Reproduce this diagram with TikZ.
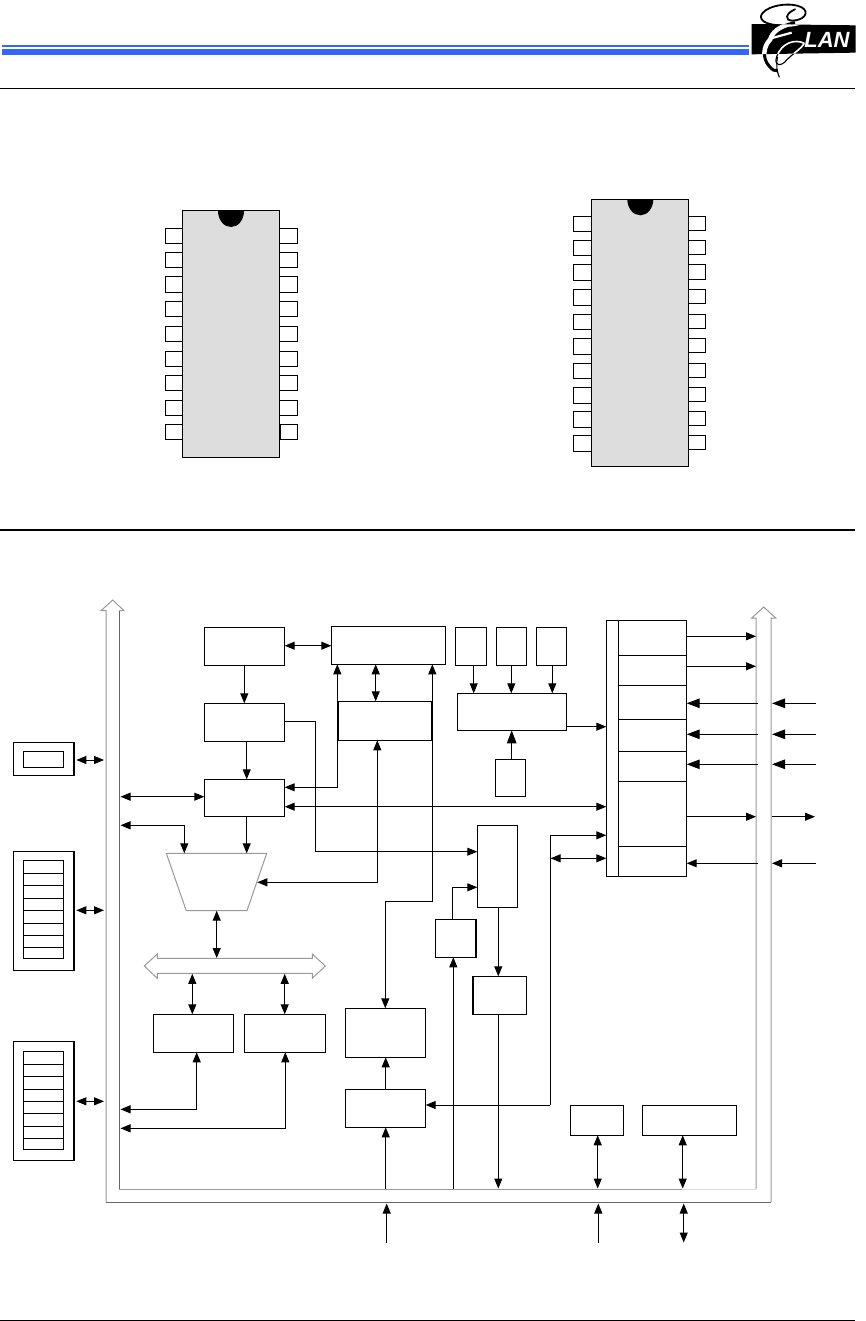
\documentclass[tikz,border=0pt]{standalone}
\usepackage{fontspec}
\setmainfont{Liberation Sans}
\usetikzlibrary{arrows.meta}
\definecolor{hdrblue}{HTML}{3366FF}
\definecolor{chipgray}{HTML}{DDDDDD}
\definecolor{busgray}{HTML}{999999}
\definecolor{busdark}{HTML}{666666}
\definecolor{buspale}{HTML}{DDDDDD}
\newcommand{\bx}[6][]{\node[boxn,#1,minimum width={#4-#2},minimum height={#5-#3}] (#6) at ({(#2+#4)/2},{(#3+#5)/2}) {};}
\tikzset{
  boxn/.style={draw=black,fill=white,line width=1pt,inner sep=0pt,outer sep=0pt,rectangle},
  chipbody/.style={fill=chipgray},
  arr/.style={-{Triangle[length=10pt,width=8pt]}},
  dbl/.style={{Triangle[length=10pt,width=8pt]}-{Triangle[length=10pt,width=8pt]}},
  bigarr/.style={-{Triangle[length=13pt,width=9.5pt]}},
  wire/.style={line width=1pt,draw=black,line join=miter},
  bus/.style={line width=1pt,draw=busgray,line join=miter},
  busd/.style={line width=1pt,draw=busdark,line join=miter},
  thickedge/.style={line width=2pt,draw=black},
}
\begin{document}
\begin{tikzpicture}[x=1pt,y=-1pt]
\useasboundingbox (0,0) rectangle (865,1321);
\fill[white] (0,0) rectangle (865,1321);
% header
\fill[hdrblue] (2,45) rectangle (749,47);
\fill[hdrblue] (2,49) rectangle (749,55);
\draw[line width=1pt] (0,88.3) -- (855,88.3);
\draw[line width=1.5pt] (0,530) -- (855,530);
\draw[line width=1pt] (0,1320.3) -- (855,1320.3);
% logo
\begin{scope}[shift={(745,0)},x=0.3333pt,y=-0.3333pt]
  \fill[black] (20,72) -- (332,76) -- (332,158) -- (20,163) -- cycle;
  \def\loopa{(112,76) .. controls (60,76) and (38,58) .. (52,40) .. controls (72,14) and (140,6) .. (170,22) .. controls (197,38) and (175,62) .. (140,62) .. controls (122,62) and (118,42) .. (150,28)}
  \def\eback{(150,68) .. controls (100,78) and (80,100) .. (76,118) .. controls (54,140) and (52,175) .. (72,198) .. controls (82,210) and (90,214) .. (96,212)}
  \def\loopb{(178,130) .. controls (150,116) and (110,128) .. (95,170) .. controls (85,200) and (110,200) .. (125,180) .. controls (150,155) and (165,150) .. (178,130)}
  \draw[line width=1.8pt,black,line cap=round] \loopa;
  \draw[line width=3pt,black] \eback;
  \draw[line width=1.1pt,black] \loopb;
  \draw[line width=1.1pt,black] (98,170) .. controls (92,195) and (96,215) .. (103,232);
  \begin{scope}
    \clip (20,72) -- (332,76) -- (332,158) -- (20,163) -- cycle;
    \draw[line width=4.5pt,white] \eback;
    \draw[line width=2.2pt,white] (82,114) -- (140,98);
    \draw[line width=1.6pt,white] \loopb;
    \draw[line width=1.6pt,white] (112,76) .. controls (130,79) and (145,78) .. (165,72);
  \end{scope}
  \node[inner sep=0pt,text=white] (lan) at (246,120) {\fontsize{22}{22}\selectfont\bfseries\itshape LAN};
\end{scope}
% left chip
\bx[chipbody]{182.3}{211}{279.3}{457}{chipL}
\foreach \n/\y in {1/228.3,2/252.3,3/277,4/301.3,5/326,6/351,7/375,8/400,9/424.3}{
  \bx{165.3}{\y}{182.3}{\y+15.5}{pinLL\n}
}
\foreach \n/\y in {1/228.3,2/252.3,3/277,4/301.3,5/326,6/351,7/375,8/400}{
  \bx{279.3}{\y}{297.3}{\y+15.5}{pinLR\n}
}
\bx{280.5}{424.3}{297.3}{439.8}{pinLR9}
\fill[black] (218,211) arc[start angle=180,end angle=360,x radius=13,y radius=-16] -- cycle;
% right chip
\bx[chipbody]{591.3}{199.3}{688.3}{466}{chipR}
\foreach \n/\y in {1/216.3,2/240.5,3/265,4/289.5,5/314,6/338.5,7/363,8/387.5,9/411.5,10/435.5}{
  \bx{573.3}{\y}{591.3}{\y+15.5}{pinRL\n}
  \bx{688.3}{\y-0.7}{705.3}{\y+15}{pinRR\n}
}
\fill[black] (627.3,199.3) arc[start angle=180,end angle=360,x radius=13,y radius=-16] -- cycle;
% bus
\draw[bus] (106,1202) -- (106,610.7) -- (101,610.7) -- (112.7,600) -- (124,610.7) -- (119.3,610.7);
\draw[busd] (119.3,610.7) -- (119.3,1189);
\draw[bus] (119.3,1189) -- (682,1189);
\draw[line width=1pt,draw=buspale] (682,1189) -- (756,1189);
\draw[bus] (756,1189) -- (756,618) -- (751.7,618) -- (763.7,607) -- (775.7,618) -- (771,618) -- (771,1202);
\draw[busd] (771,1202) -- (106,1202);
\coordinate (lbus) at (120.5,0);
\coordinate (lbusout) at (104,0);
\coordinate (rbusin) at (756,0);
\coordinate (rbusin2) at (757.5,0);
\coordinate (rbusout) at (772,0);
\coordinate (extR) at (816,0);
\coordinate (inbot) at (0,1188.5);
\coordinate (outbot) at (0,1203.5);
\coordinate (extB) at (0,1242.5);
% blocks
\bx{204.3}{627.3}{284.7}{665.3}{A}
\bx{204.3}{703.3}{284.7}{741.3}{B}
\bx{204.3}{779.3}{284.7}{816.3}{C}
\bx{331.3}{626.3}{445.7}{664.3}{D}
\bx{338.3}{701.3}{431.7}{740.3}{E}
\bx{455.3}{627.3}{486.3}{665.3}{Ha}
\bx{496.3}{627.3}{526.3}{665.3}{Hb}
\bx{536.3}{627.3}{566.7}{665.3}{Hc}
\bx{457.3}{693.3}{566.7}{730.3}{I}
\bx{495.3}{759.3}{525.3}{796.3}{J}
\bx{477.3}{825.3}{517.7}{907.7}{F}
\bx{435.3}{919.3}{476.2}{957.3}{K}
\bx{472.8}{976.3}{526.7}{1014.3}{L}
\bx{153.3}{1014.3}{233.3}{1052.3}{N}
\bx{244.3}{1014.3}{325.3}{1052.3}{O}
\bx{345.3}{1008.3}{425.7}{1057.3}{G}
\bx{345.3}{1089.3}{425.7}{1127.3}{M}
\bx{570.3}{1105.3}{623.3}{1135.3}{P}
\bx{642.3}{1105.3}{736.3}{1135.3}{Q}
\draw[thickedge] (E.north east) -- (E.south east);
\draw[thickedge] (K.north east) -- (K.south east);
\draw[thickedge] (L.north west) -- (L.south west);
% register files
\bx{13.3}{742.3}{74}{775.3}{Ra}
\bx{23.3}{751.3}{63.3}{767.3}{Rai}
\bx{13.3}{851.3}{74}{970.3}{Rb}
\bx{23.3}{860.3}{63.3}{958.3}{Rbi}
\bx{13.3}{1041}{74}{1160.3}{Rc}
\bx{23.3}{1051.3}{63.3}{1149.3}{Rci}
\draw[thickedge] (Ra.north east) -- (Ra.south east);
\draw[thickedge] (Rb.north east) -- (Rb.south east);
\draw[thickedge] (Rc.north east) -- (Rc.south east);
\foreach \y in {873.3,885.3,898.3,910.3,923.3,935.3,947.3}{\draw[wire] (Rbi.west |- 0,\y) -- (Rbi.east |- 0,\y);}
\foreach \y in {1064.3,1076.3,1089.3,1101.3,1113.3,1126.3,1138.3}{\draw[wire] (Rci.west |- 0,\y) -- (Rci.east |- 0,\y);}
% port block
\bx{606.3}{620.3}{618.3}{876.3}{Pl}
\bx{618.3}{620.3}{686.7}{655.3}{Pa}
\bx{618.3}{655.3}{686.7}{685.3}{Pb}
\bx{618.3}{685.3}{686.7}{719.3}{Pc}
\bx{618.3}{719.3}{686.7}{751.3}{Pd}
\bx{618.3}{751.3}{686.7}{781.3}{Pe}
\bx{618.3}{781.3}{686.7}{846.3}{Pf}
\bx{618.3}{846.3}{686.7}{876.3}{Pg}
% ALU and internal bus
\draw[line width=1pt,draw=busgray,line join=miter] (166.3,853.3) -- (266.7,853.3) -- (247,910.7) -- (186.3,910.7) -- cycle;
\coordinate (traptop) at (0,853.3);
\coordinate (trapbot) at (0,910.7);
\coordinate (trapright) at (257.3,0);
\draw[bus] (144.3,966) -- (157.3,954) -- (157.3,958.3) -- (312.3,958.3) -- (312.3,954) -- (325.3,966) -- (312.3,978.3) -- (312.3,973.3) -- (157.3,973.3) -- (157.3,978.3) -- cycle;
\coordinate (mbtop) at (0,958);
\coordinate (mbbot) at (0,973.8);
% connectors
\draw[wire,arr] (244.3,0 |- A.south) -- (244.3,0 |- B.north);
\draw[wire,arr] (246.7,0 |- B.south) -- (246.7,0 |- C.north);
\draw[wire,arr] (246.7,0 |- C.south) -- (246.7,0 |- traptop);
\draw[wire,dbl] (A.east |- 0,645.7) -- (D.west |- 0,645.7);
\draw[wire,dbl] (lbus |- 0,796.7) -- (C.west |- 0,796.7);
\draw[wire,dbl] (lbus |- 0,825.3) -- (184.3,825.3) -- (184.3,0 |- traptop);
\draw[wire,dbl] (C.east |- 0,787.3) -- (337.3,787.3) -- (337.3,0 |- D.south);
\draw[wire,dbl] (C.east |- 0,806.7) -- (Pl.west |- 0,806.7);
\draw[wire,arr] (B.east |- 0,721.7) -- (315.3,721.7) -- (315.3,851.7) -- (F.west |- 0,851.7);
\draw[wire,dbl] (377.3,0 |- E.south) -- (377.3,882.3) -- (trapright |- 0,882.3);
\draw[wire,dbl] (375.7,0 |- D.south) -- (375.7,0 |- E.north);
\draw[wire,dbl] (432.3,0 |- D.south) -- (432.3,901) -- (385.3,901) -- (385.3,0 |- G.north);
\draw[wire,arr] (473.7,0 |- Ha.south) -- (473.7,0 |- I.north);
\draw[wire,arr] (511.3,0 |- Hb.south) -- (511.3,0 |- I.north);
\draw[wire,arr] (552.3,0 |- Hc.south) -- (552.3,0 |- I.north);
\draw[wire,bigarr] (511.7,0 |- J.north) -- (511.7,0 |- I.south);
\draw[wire,arr] (I.east |- 0,726.7) -- (Pl.west |- 0,726.7);
\draw[wire,arr] (452.3,0 |- K.north) -- (452.3,887.3) -- (F.west |- 0,887.3);
\draw[wire,arr] (453.3,0 |- inbot) -- (453.3,0 |- K.south);
\draw[wire,arr] (498.3,0 |- F.south) -- (498.3,0 |- L.north);
\draw[wire,arr] (498.3,0 |- L.south) -- (498.3,0 |- inbot);
\draw[wire,arr] (550.3,1105) -- (550.3,835.3) -- (Pl.west |- 0,835.3);
\draw[wire,arr] (550.3,1105) -- (M.east |- 0,1105);
\draw[wire,dbl] (550.6,858.3) -- (Pl.west |- 0,858.3);
\draw[wire,dbl] (216.7,0 |- trapbot) -- (216.7,0 |- mbtop);
\draw[wire,dbl] (192.3,0 |- mbbot) -- (192.3,0 |- N.north);
\draw[wire,dbl] (284.7,0 |- mbbot) -- (284.7,0 |- O.north);
\draw[wire,dbl] (196.7,0 |- N.south) -- (196.7,1109.3) -- (lbus |- 0,1109.3);
\draw[wire,dbl] (285.3,0 |- O.south) -- (285.3,1128.3) -- (lbus |- 0,1128.3);
\draw[wire,arr] (385.7,0 |- M.north) -- (385.7,0 |- G.south);
\draw[wire,arr] (385.7,0 |- inbot) -- (385.7,0 |- M.south);
\draw[wire,arr] (386.7,0 |- extB) -- (386.7,0 |- outbot);
\draw[wire,dbl] (597.7,0 |- P.south) -- (597.7,0 |- inbot);
\draw[wire,dbl] (682.7,0 |- Q.south) -- (682.7,0 |- inbot);
\draw[wire,arr] (598.3,0 |- extB) -- (598.3,0 |- outbot);
\draw[wire,dbl] (683.7,0 |- extB) -- (683.7,0 |- outbot);
% register to bus
\draw[wire,dbl] (Ra.east |- 0,760) ++(2.3,0) -- (lbusout |- 0,760);
\draw[wire,dbl] (Rb.east |- 0,910.3) ++(2.3,0) -- (lbusout |- 0,910.3);
\draw[wire,dbl] (Rc.east |- 0,1101.3) ++(2.3,0) -- (lbusout |- 0,1101.3);
% port to bus
\draw[wire,arr] (Pa.east |- 0,636.3) -- (rbusin |- 0,636.3);
\draw[wire,arr] (Pb.east |- 0,666.3) -- (rbusin |- 0,666.3);
\foreach \y in {703.3,734.3,764.3}{
  \draw[wire,bigarr] (rbusin2 |- 0,\y) -- (Pc.east |- 0,\y);
  \draw[wire,bigarr] (extR |- 0,\y) -- (rbusout |- 0,\y);
}
\draw[wire,arr] (Pf.east |- 0,816.7) -- (rbusin |- 0,816.7);
\draw[wire,arr] (rbusout |- 0,816.7) -- (815,816.7);
\draw[wire,arr] (rbusin2 |- 0,863.3) -- (Pg.east |- 0,863.3);
\draw[wire,arr] (extR |- 0,863.3) -- (rbusout |- 0,863.3);
\end{tikzpicture}
\end{document}
